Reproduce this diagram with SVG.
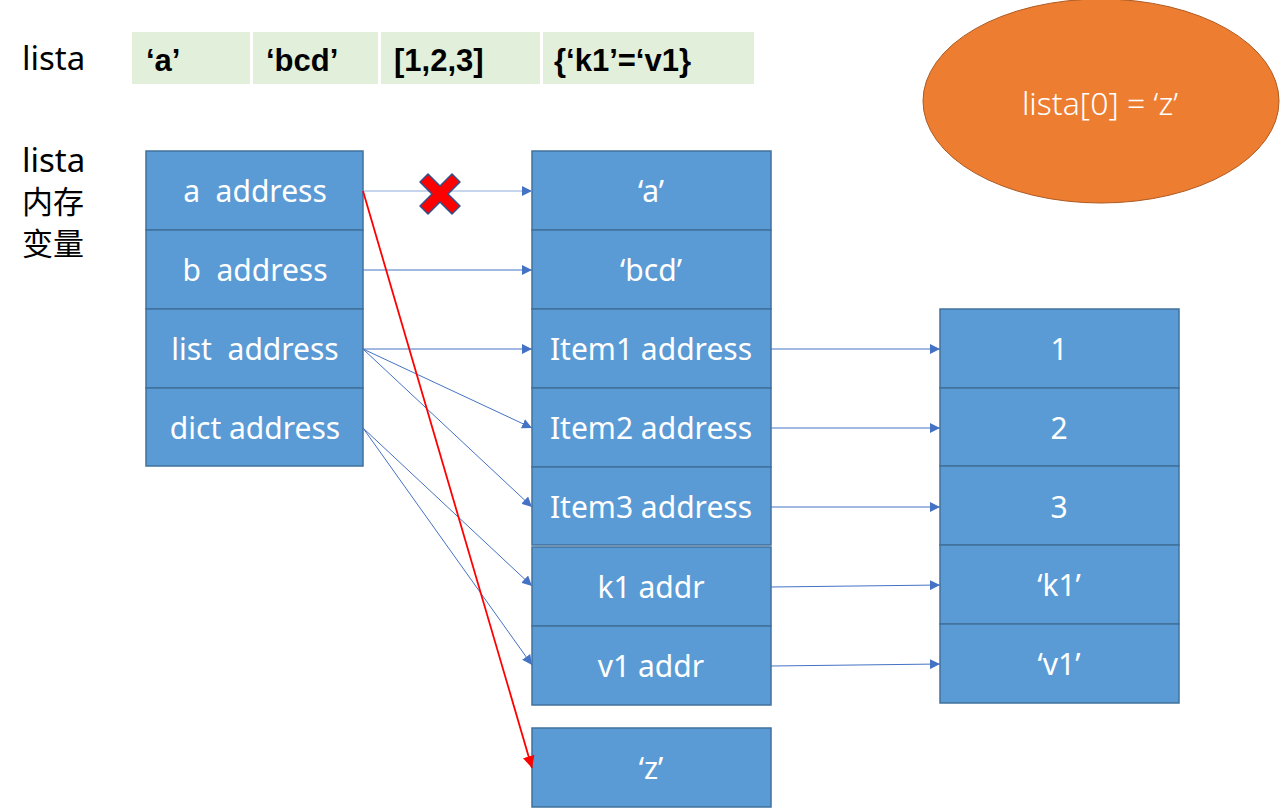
<svg xmlns="http://www.w3.org/2000/svg" width="1280" height="810" viewBox="0 0 1280 810">
<defs>
<style>
.cell{fill:#5b9bd5;stroke:#41719c;stroke-width:1.5}
.t{fill:#fff;font-family:"Noto Sans","Liberation Sans",sans-serif;font-size:30px;text-anchor:middle;white-space:pre}
.g{fill:#e2efda}
.gt{fill:#000;font-family:"Liberation Sans",sans-serif;font-weight:bold;font-size:31px;white-space:pre}
.lbl{fill:#000;font-family:"Noto Sans","Noto Sans CJK SC",sans-serif;font-size:33px}
.cjk{font-size:31px}
.c{stroke:#4472c4;stroke-width:1;fill:none;marker-end:url(#ah)}
</style>
<marker id="ah" viewBox="0 0 10 10" refX="10" refY="5" markerWidth="10" markerHeight="10" markerUnits="userSpaceOnUse" orient="auto"><path d="M0,0 L10,5 L0,10 z" fill="#4472c4"/></marker>
<marker id="ahr" viewBox="0 0 10 10" refX="10" refY="5" markerWidth="12" markerHeight="12" markerUnits="userSpaceOnUse" orient="auto"><path d="M0,0 L10,5 L0,10 z" fill="#ff0000"/></marker>
</defs>
<rect width="1280" height="810" fill="#fff"/>
<g id="header">
<text class="lbl" x="22" y="70">lista</text>
<rect class="g" x="132" y="32" width="118" height="52"/>
<rect class="g" x="253" y="32" width="125" height="52"/>
<rect class="g" x="381" y="32" width="159" height="52"/>
<rect class="g" x="543" y="32" width="211" height="52"/>
<text class="gt" x="146" y="71">‘a’</text>
<text class="gt" x="266" y="71">‘bcd’</text>
<text class="gt" x="394" y="71">[1,2,3]</text>
<text class="gt" x="554" y="71">{‘k1’=‘v1}</text>
</g>
<g id="side-label">
<text class="lbl" x="22" y="172">lista</text>
<text class="lbl cjk" x="22" y="213">内存</text>
<text class="lbl cjk" x="22" y="255">变量</text>
</g>
<g id="note">
<ellipse cx="1101" cy="101" rx="178" ry="102" fill="#ed7d31" stroke="#ae5a21" stroke-width="1"/>
<text class="t" x="1100" y="115" style="font-weight:300;font-size:32px">lista[0] = ‘z’</text>
</g>
<g id="lista-vars">
<rect class="cell" x="146" y="151" width="217" height="79"/>
<rect class="cell" x="146" y="230" width="217" height="79"/>
<rect class="cell" x="146" y="309" width="217" height="79"/>
<rect class="cell" x="146" y="388" width="217" height="78"/>
<text class="t" x="255" y="202">a  address</text>
<text class="t" x="255" y="281">b  address</text>
<text class="t" x="255" y="360">list  address</text>
<text class="t" x="255" y="439">dict address</text>
</g>
<g id="values">
<rect class="cell" x="532" y="151" width="239" height="79"/>
<rect class="cell" x="532" y="230" width="239" height="79"/>
<rect class="cell" x="532" y="309" width="239" height="79"/>
<rect class="cell" x="532" y="388" width="239" height="79"/>
<rect class="cell" x="532" y="467" width="239" height="78"/>
<text class="t" x="651" y="202">‘a’</text>
<text class="t" x="651" y="281">‘bcd’</text>
<text class="t" x="651" y="360">Item1 address</text>
<text class="t" x="651" y="439">Item2 address</text>
<text class="t" x="651" y="518">Item3 address</text>
</g>
<g id="dict">
<rect class="cell" x="532" y="547" width="239" height="79"/>
<rect class="cell" x="532" y="626" width="239" height="79"/>
<text class="t" x="651" y="598">k1 addr</text>
<text class="t" x="651" y="677">v1 addr</text>
</g>
<g id="z">
<rect class="cell" x="532" y="728" width="239" height="79"/>
<text class="t" x="651" y="779">‘z’</text>
</g>
<g id="items">
<rect class="cell" x="940" y="309" width="239" height="79"/>
<rect class="cell" x="940" y="388" width="239" height="78"/>
<rect class="cell" x="940" y="466" width="239" height="79"/>
<rect class="cell" x="940" y="545" width="239" height="79"/>
<rect class="cell" x="940" y="624" width="239" height="79"/>
<text class="t" x="1059" y="360">1</text>
<text class="t" x="1059" y="439">2</text>
<text class="t" x="1059" y="518">3</text>
<text class="t" x="1059" y="596">‘k1’</text>
<text class="t" x="1059" y="675">‘v1’</text>
</g>
<g id="connectors">
<line class="c" x1="363" y1="191" x2="532" y2="191" style="stroke:#8faadc"/>
<line class="c" x1="363" y1="270" x2="532" y2="270"/>
<line class="c" x1="363" y1="349" x2="532" y2="349"/>
<line class="c" x1="363" y1="349" x2="532" y2="428"/>
<line class="c" x1="363" y1="349" x2="532" y2="507"/>
<line class="c" x1="363" y1="428" x2="532" y2="586"/>
<line class="c" x1="363" y1="428" x2="532" y2="665"/>
<line class="c" x1="771" y1="349" x2="940" y2="349"/>
<line class="c" x1="771" y1="428" x2="940" y2="428"/>
<line class="c" x1="771" y1="507" x2="940" y2="507"/>
<line class="c" x1="771" y1="587" x2="940" y2="585"/>
<line class="c" x1="771" y1="666" x2="940" y2="664"/>
<line x1="363" y1="191" x2="532" y2="768" stroke="#ff0000" stroke-width="1.8" marker-end="url(#ahr)"/>
</g>
<g id="cross">
<path d="M428,174 L440,186 L452,174 L460,182 L448,194 L460,206 L452,214 L440,202 L428,214 L420,206 L432,194 L420,182 Z" fill="#ff0000" stroke="#2f528f" stroke-width="1.5" stroke-linejoin="round"/>
</g>
</svg>
